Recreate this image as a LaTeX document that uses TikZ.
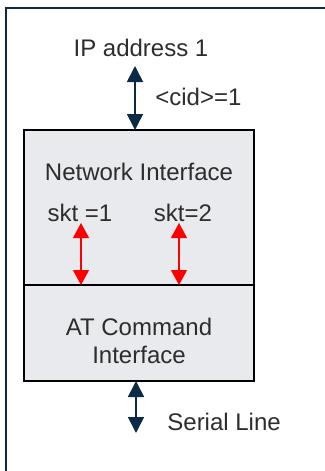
\documentclass[tikz,border=0pt]{standalone}
\usepackage{fontspec}
\setmainfont{Liberation Sans}
\usetikzlibrary{positioning,arrows.meta}

\definecolor{navy}{RGB}{12,42,70}
\definecolor{ifgray}{RGB}{233,234,238}
\definecolor{txtgray}{RGB}{45,45,45}

\begin{document}
\begin{tikzpicture}[x=0.5pt,y=-0.5pt,
	layer/.style={
		% The shape:
		rectangle,
		minimum width=115pt,
		inner sep=0pt, outer sep=0pt,
		% The border and filling:
		draw=black, line width=1pt,
		fill=ifgray
		},
	txt/.style={font=\fontsize{12}{14}\selectfont, text=txtgray, inner sep=0pt, align=center},
	link/.style={{Triangle[width=8pt,length=8pt]}-{Triangle[width=8pt,length=8pt]}, draw=navy, line width=0.8pt},
	sock/.style={{Triangle[width=8pt,length=7.5pt]}-{Triangle[width=8pt,length=7.5pt]}, draw=red, line width=0.6pt}]

	\useasboundingbox (0,0) rectangle (325,471);
	\clip (0,0) rectangle (325,471);

	% outer frame, runs off the right and bottom edges
	\draw[navy, line width=1pt] (6,8) rectangle (345,495);

	\node (netif) [layer, minimum height=77.5pt, anchor=north west] at (24,130) {};
	\node (atcmd) [layer, minimum height=48pt, below=0pt of netif] {};

	\node (ip) [txt] at (141,48) {IP address 1};
	\node (netlabel) [txt] at (139,172) {Network Interface};
	\node (skt1) [txt] at (80,213) {skt =1};
	\node (skt2) [txt] at (183,213) {skt=2};
	\node (atlabel) [txt] at (139,341) {AT Command\\[0.4pt]Interface};

	\coordinate (ipport) at (135,66);
	\coordinate (serial) at (136,433);
	\coordinate (sktport1) at (81,223);
	\coordinate (sktport2) at (179,223);

	\node (cid) [txt, anchor=west] at (155,97) {<cid>=1};
	\node (serlabel) [txt, anchor=west] at (167,422) {Serial Line};

	\path (ipport) edge[link] (ipport |- netif.north);
	\path (serial |- atcmd.south) edge[link] (serial);
	\path (sktport1) edge[sock] (sktport1 |- atcmd.north);
	\path (sktport2) edge[sock] (sktport2 |- atcmd.north);

\end{tikzpicture}
\end{document}
